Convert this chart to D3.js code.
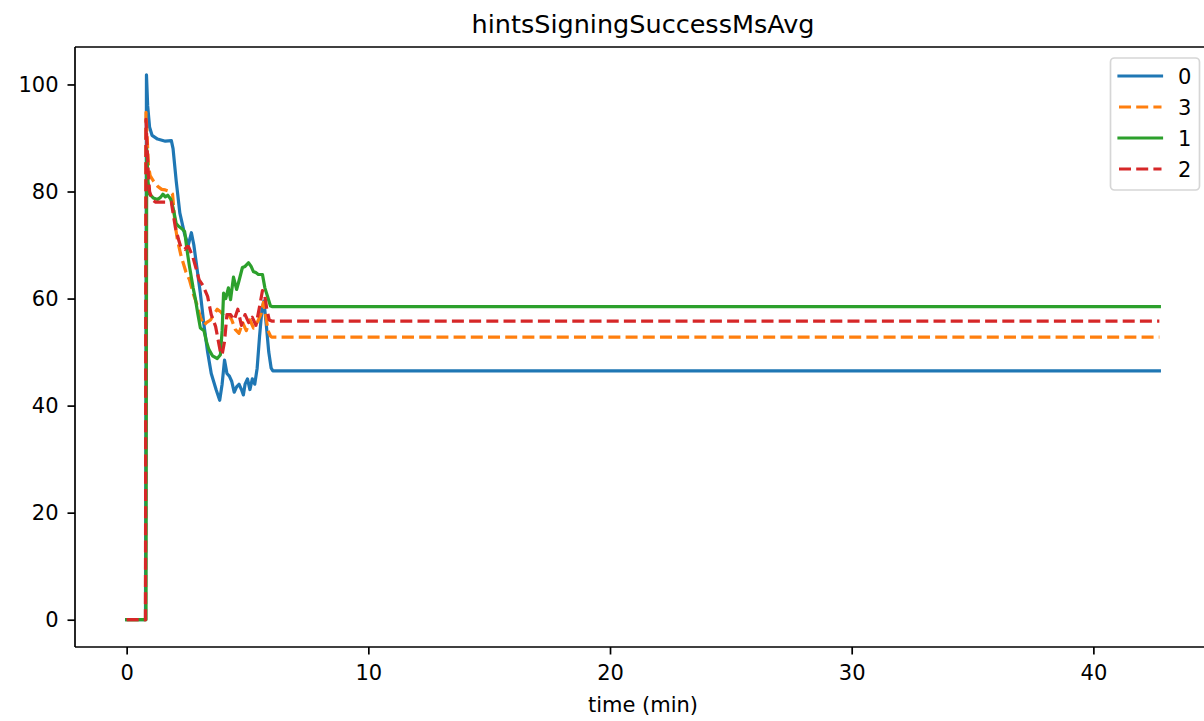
<!DOCTYPE html>
<html>
<head>
<meta charset="utf-8">
<script src="https://cdn.jsdelivr.net/npm/d3@7"></script>
<style>
  html, body { margin: 0; padding: 0; background: #fff; }
  svg { display: block; font-family: "DejaVu Sans", sans-serif; }
</style>
</head>
<body>
<svg id="chart" width="1204" height="721"></svg>
<script>
// ---- data ----
const chartTitle = "hintsSigningSuccessMsAvg";
const xLabel = "time (min)";
const seriesNames = ["0", "3", "1", "2"];
const seriesColors = ["#1f77b4", "#ff7f0e", "#2ca02c", "#d62728"];
const seriesDashed = [false, true, false, true];
const xTicks = [0, 10, 20, 30, 40];
const yTicks = [0, 20, 40, 60, 80, 100];

const series0 = [[0,0],[0.78,0],[0.82,101.8],[0.87,96],[0.95,92],[1.05,90.5],[1.28,89.8],[1.6,89.4],[1.85,89.5],[1.92,88],[2.05,82],[2.2,76],[2.4,72],[2.55,70],[2.68,72.3],[2.78,70],[2.9,66],[3.05,61],[3.2,55],[3.35,50],[3.5,46],[3.7,43],[3.85,41],[3.95,44],[4.05,48.5],[4.15,46],[4.25,45.5],[4.35,44.5],[4.45,42.5],[4.55,43.5],[4.65,44],[4.75,43],[4.83,42],[4.9,44],[5.0,45],[5.1,43],[5.2,45],[5.3,44],[5.4,47],[5.5,53],[5.6,58],[5.68,59.5],[5.78,55],[5.88,50],[5.98,47],[6.05,46.5],[42.73,46.5]];
const series3 = [[0,0],[0.78,0],[0.8,94.8],[0.85,90],[0.9,85],[0.97,83],[1.1,82],[1.28,81],[1.45,80.4],[1.6,80.3],[1.8,80],[1.9,79.5],[2.0,74],[2.1,71],[2.25,68],[2.45,65],[2.6,63.5],[2.75,61],[2.9,59],[3.05,56.5],[3.2,55],[3.3,55.5],[3.47,56],[3.6,57],[3.75,58],[3.9,57.5],[4.05,56.5],[4.2,57],[4.35,56],[4.5,54.2],[4.65,53.5],[4.8,55.5],[4.95,54],[5.1,56],[5.25,54.5],[5.4,55.5],[5.55,57],[5.66,59.3],[5.75,57],[5.85,54],[5.95,53],[6.0,52.8],[42.73,52.8]];
const series1 = [[0,0],[0.8,0],[0.83,88],[0.88,82],[0.95,79.5],[1.1,78.8],[1.28,78.5],[1.4,78.9],[1.5,79.5],[1.6,79],[1.7,79.3],[1.82,78.6],[1.92,77],[2.05,74],[2.15,73.5],[2.3,73],[2.4,72.5],[2.5,69],[2.6,66],[2.75,62],[2.85,59.8],[2.95,57],[3.05,54.5],[3.2,54],[3.3,52],[3.4,50.5],[3.55,49.3],[3.75,48.8],[3.88,49.5],[3.95,54],[4.01,61],[4.1,60],[4.21,62],[4.3,59.8],[4.42,64],[4.55,61.7],[4.63,63],[4.79,65.8],[4.9,66],[5.04,66.7],[5.15,66],[5.25,65],[5.33,64.9],[5.45,64.5],[5.62,64.5],[5.72,62],[5.83,60.4],[5.95,58.6],[6.03,58.5],[42.73,58.5]];
const series2 = [[0,0],[0.78,0],[0.8,93.5],[0.85,88],[0.9,83],[0.95,80],[1.05,78.5],[1.2,78],[1.5,78],[1.85,78],[1.92,76],[2.02,73.2],[2.15,71],[2.25,69.5],[2.4,69.2],[2.5,69.7],[2.56,69.7],[2.73,67.9],[2.85,66],[3.0,63.5],[3.15,62.5],[3.35,60.4],[3.5,57],[3.68,54.8],[3.88,50],[3.95,49.5],[4.05,52],[4.15,57],[4.3,57],[4.45,56],[4.6,58],[4.75,55],[4.9,57],[5.05,55.5],[5.2,56.5],[5.35,55],[5.5,58.5],[5.62,61.5],[5.7,61],[5.8,58],[5.9,56],[6.0,55.8],[42.73,55.8]];
const allSeries = [series0, series3, series1, series2];

// ---- layout ----
const svg = d3.select("#chart");
const mLeft = 75, mRight = 1211, mTop = 47, mBottom = 647;
const lw = 3.2;
const dash = "12,5.2";
const fontTick = "21px";

const x = d3.scaleLinear().domain([-2.137, 44.867]).range([mLeft, mRight]);
const y = d3.scaleLinear().domain([-5.1, 107.0]).range([mBottom, mTop]);

// clip
svg.append("defs").append("clipPath").attr("id", "clip")
  .append("rect").attr("x", mLeft).attr("y", mTop).attr("width", mRight - mLeft).attr("height", mBottom - mTop);

// lines
const line = d3.line().x(d => x(d[0])).y(d => y(d[1]));
const plot = svg.append("g").attr("clip-path", "url(#clip)");
allSeries.forEach((s, i) => {
  plot.append("path")
    .datum(s)
    .attr("d", line)
    .attr("fill", "none")
    .attr("stroke", seriesColors[i])
    .attr("stroke-width", lw)
    .attr("stroke-linejoin", "round")
    .attr("stroke-linecap", seriesDashed[i] ? "butt" : "square")
    .attr("stroke-dasharray", seriesDashed[i] ? dash : null);
});

// axes
const xAxis = d3.axisBottom(x).tickValues(xTicks).tickSize(7.5).tickPadding(11).tickFormat(d3.format("d"));
const yAxis = d3.axisLeft(y).tickValues(yTicks).tickSize(7.5).tickPadding(9).tickFormat(d3.format("d"));

const gx = svg.append("g").attr("transform", `translate(0,${mBottom})`).call(xAxis);
const gy = svg.append("g").attr("transform", `translate(${mLeft},0)`).call(yAxis);
[gx, gy].forEach(g => {
  g.select(".domain").remove();
  g.selectAll(".tick line").attr("stroke", "#000").attr("stroke-width", 1.7);
  g.selectAll(".tick text").attr("fill", "#000").style("font-size", fontTick).style("font-family", "DejaVu Sans");
});

// spines
const sp = svg.append("g").attr("fill", "none").attr("stroke", "#000").attr("stroke-width", 1.7);
sp.append("line").attr("x1", mLeft).attr("x2", mLeft).attr("y1", mTop).attr("y2", mBottom);
sp.append("line").attr("x1", mLeft).attr("x2", mRight).attr("y1", mBottom).attr("y2", mBottom);
sp.append("line").attr("x1", mLeft).attr("x2", mRight).attr("y1", mTop).attr("y2", mTop);
sp.append("line").attr("x1", mRight).attr("x2", mRight).attr("y1", mTop).attr("y2", mBottom);

// title and label
svg.append("text").attr("x", (mLeft + mRight) / 2).attr("y", 33)
  .attr("text-anchor", "middle").style("font-size", "25.5px").text(chartTitle);
svg.append("text").attr("x", (mLeft + mRight) / 2).attr("y", 712)
  .attr("text-anchor", "middle").style("font-size", fontTick).text(xLabel);

// legend
const lg = svg.append("g");
lg.append("rect").attr("x", 1110.5).attr("y", 58).attr("width", 89).attr("height", 132)
  .attr("rx", 4).attr("fill", "#fff").attr("fill-opacity", 0.8).attr("stroke", "#d6d6d6").attr("stroke-width", 1.7);
seriesNames.forEach((name, i) => {
  const yy = 76 + i * 31;
  lg.append("line").attr("x1", 1119).attr("x2", 1161.5).attr("y1", yy).attr("y2", yy)
    .attr("stroke", seriesColors[i]).attr("stroke-width", lw)
    .attr("stroke-linecap", seriesDashed[i] ? "butt" : "square")
    .attr("stroke-dasharray", seriesDashed[i] ? dash : null);
  lg.append("text").attr("x", 1178).attr("y", yy + 7.5).style("font-size", fontTick).text(name);
});
</script>
</body>
</html>
